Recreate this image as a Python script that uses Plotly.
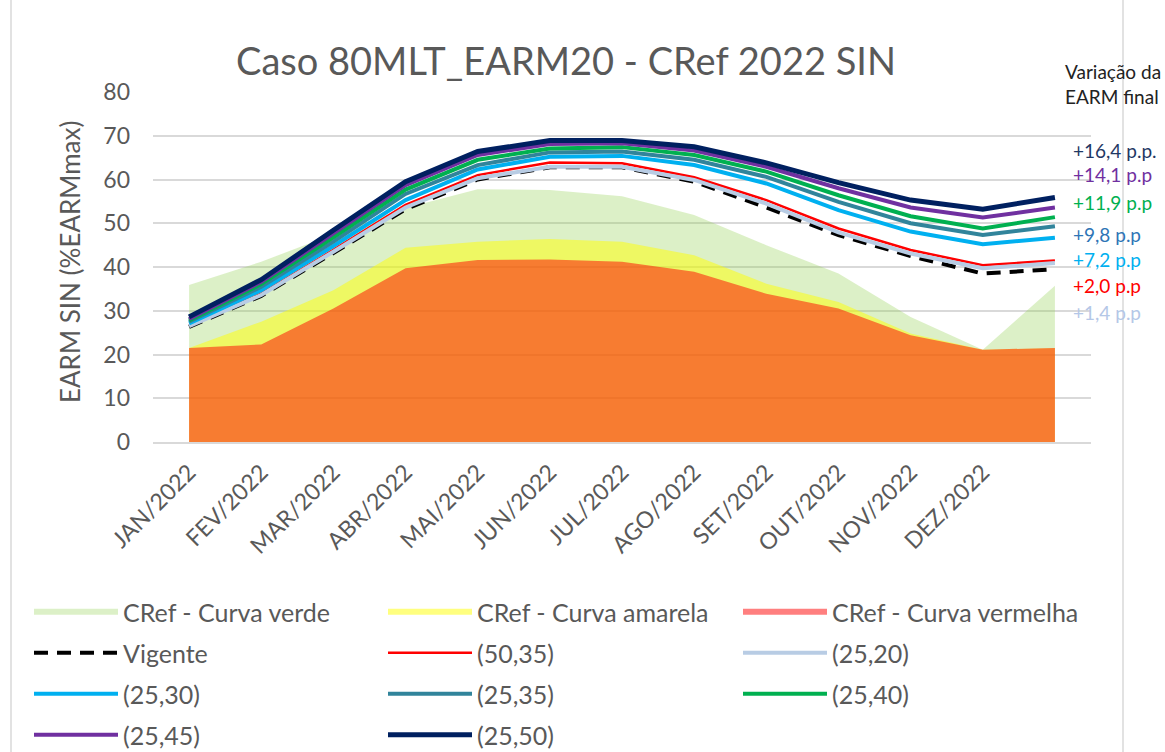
import plotly.graph_objects as go

months = ["JAN/2022", "FEV/2022", "MAR/2022", "ABR/2022", "MAI/2022", "JUN/2022",
          "JUL/2022", "AGO/2022", "SET/2022", "OUT/2022", "NOV/2022", "DEZ/2022"]
x_idx = list(range(13))

curva_verde = [35.9, 41.2, 47.5, 53.5, 57.8, 57.6, 56.2, 51.9, 45.0, 38.5, 28.6, 21.1, 35.7]
curva_amarela = [21.5, 27.5, 34.7, 44.4, 45.8, 46.4, 45.8, 42.7, 36.2, 32.0, 24.8, 21.1, 21.5]
curva_vermelha = [21.5, 22.3, 30.5, 39.7, 41.6, 41.7, 41.2, 38.9, 33.9, 30.5, 24.4, 21.1, 21.5]

vigente = [26.3, 33.4, 43.2, 53.2, 60.0, 62.8, 62.8, 59.5, 53.6, 47.3, 42.5, 38.5, 39.5]
s_50_35 = [26.7, 33.9, 43.9, 54.2, 61.0, 63.9, 63.7, 60.5, 55.3, 48.8, 43.9, 40.4, 41.5]
s_25_20 = [26.5, 33.6, 43.5, 53.6, 60.3, 62.9, 62.9, 59.9, 54.5, 47.9, 43.1, 39.7, 40.9]
s_25_30 = [27.1, 34.7, 44.8, 55.3, 62.3, 65.2, 65.4, 63.3, 59.1, 53.0, 48.1, 45.2, 46.7]
s_25_35 = [27.5, 35.5, 45.8, 56.7, 63.3, 66.2, 66.4, 64.5, 60.6, 54.9, 50.0, 47.3, 49.3]
s_25_40 = [27.8, 36.1, 46.8, 57.7, 64.5, 67.1, 67.4, 65.6, 61.8, 56.4, 51.6, 48.8, 51.4]
s_25_45 = [28.1, 36.6, 47.7, 58.7, 65.6, 68.1, 68.3, 66.6, 62.9, 58.0, 53.6, 51.3, 53.6]
s_25_50 = [28.6, 37.1, 48.4, 59.5, 66.4, 68.9, 68.9, 67.5, 63.8, 59.3, 55.3, 53.2, 55.9]

variacao_labels = ["+16,4 p.p.", "+14,1 p.p", "+11,9 p.p", "+9,8 p.p", "+7,2 p.p", "+2,0 p.p", "+1,4 p.p"]
variacao_colors = ["#1F3864", "#7030A0", "#00B050", "#2E75B6", "#00B0F0", "#FF0000", "#B4C7E7"]
variacao_ypix = [150, 174, 202, 234, 259, 285, 312]

W, H = 1165, 752
L, R, T, B = 153, 74, 92, 310
PW, PH = W - L - R, H - T - B
FONT = "Lato"
GRAY = "#595959"


def px(xp):
    return (xp - L) / PW


def py(yp):
    return (H - B - yp) / PH


# legend slots: (column x in px, row y in px)
col_x = [29, 383, 738]
row_y = [612, 653, 694, 735]

fig = go.Figure()

areas = [
    ("CRef - Curva verde", curva_verde, "rgba(146,208,80,0.32)"),
    ("CRef - Curva amarela", curva_amarela, "rgba(255,255,0,0.5)"),
    ("CRef - Curva vermelha", curva_vermelha, "rgba(255,0,0,0.5)"),
]
lines = [
    ("Vigente", vigente, "black", 4, "14px,9px"),
    ("(50,35)", s_50_35, "#FF0000", 2.5, "solid"),
    ("(25,20)", s_25_20, "#B8CCE4", 4, "solid"),
    ("(25,30)", s_25_30, "#00B0F0", 4, "solid"),
    ("(25,35)", s_25_35, "#31849B", 4, "solid"),
    ("(25,40)", s_25_40, "#00B050", 4, "solid"),
    ("(25,45)", s_25_45, "#7030A0", 4, "solid"),
    ("(25,50)", s_25_50, "#002060", 5, "solid"),
]

legends = {}
k = 0


def next_legend():
    global k
    key = f"legend{k + 2}"
    r, c = divmod(k, 3)
    legends[key] = dict(xref="container", yref="container", x=col_x[c] / W, y=1 - row_y[r] / H,
                        xanchor="left", yanchor="middle", orientation="v",
                        font=dict(family=FONT, size=25, color=GRAY), bgcolor="rgba(0,0,0,0)",
                        itemwidth=84)
    k += 1
    return key


for name, vals, col in areas:
    fig.add_trace(go.Scatter(x=x_idx, y=vals, name=name, mode="none", fill="tozeroy",
                             fillcolor=col, legend=next_legend()))

for name, vals, col, w, dash in lines:
    fig.add_trace(go.Scatter(x=x_idx, y=vals, name=name, mode="lines",
                             line=dict(color=col, width=w, dash=dash), legend=next_legend()))

annotations = [
    dict(text="EARM SIN (%EARMmax)", xref="paper", yref="paper", x=px(70), y=py(262),
         xanchor="center", yanchor="middle", textangle=-90, showarrow=False,
         font=dict(family=FONT, size=26, color=GRAY)),
    dict(text="Variação da<br>EARM final", xref="paper", yref="paper", x=px(1063), y=py(58),
         xanchor="left", yanchor="top", align="left", showarrow=False,
         font=dict(family=FONT, size=19, color="#222222")),
]
for lab, col, yp in zip(variacao_labels, variacao_colors, variacao_ypix):
    annotations.append(dict(text=lab, xref="paper", yref="paper", x=px(1071), y=py(yp),
                            xanchor="left", yanchor="middle", showarrow=False,
                            font=dict(family=FONT, size=19, color=col)))

shapes = [
    dict(type="line", xref="paper", yref="paper", x0=px(11), x1=px(11), y0=py(-5), y1=py(760),
         line=dict(color="#D9D9D9", width=1.5)),
    dict(type="line", xref="paper", yref="paper", x0=px(1123), x1=px(1123), y0=py(-5), y1=py(760),
         line=dict(color="#D9D9D9", width=1.5)),
]

fig.update_layout(
    width=W, height=H,
    margin=dict(l=L, r=R, t=T, b=B, autoexpand=False),
    paper_bgcolor="white", plot_bgcolor="white",
    title=dict(text="Caso 80MLT_EARM20 - CRef 2022 SIN", x=566 / W, xanchor="center",
               y=1 - 62 / H, yanchor="middle", xref="container", yref="container",
               font=dict(family=FONT, size=38, color=GRAY)),
    xaxis=dict(range=[-0.5, 12.5], tickmode="array", tickvals=list(range(12)), ticktext=months,
               tickangle=-45, showgrid=False, showline=True, linecolor="#D9D9D9", linewidth=1.5,
               ticks="", ticklabelstandoff=6, automargin=False,
               tickfont=dict(family=FONT, size=23, color=GRAY), zeroline=False),
    yaxis=dict(range=[0, 80], dtick=10, showgrid=True, gridcolor="#D9D9D9", gridwidth=1.5,
               zeroline=False, showline=False, ticks="", ticklabelstandoff=22, automargin=False,
               tickfont=dict(family=FONT, size=23, color=GRAY)),
    annotations=annotations,
    shapes=shapes,
    showlegend=True,
    **legends,
)

fig.write_html("out.html", config={"displayModeBar": False},
               post_script="document.body.style.margin='0';document.body.style.overflow='hidden';")
